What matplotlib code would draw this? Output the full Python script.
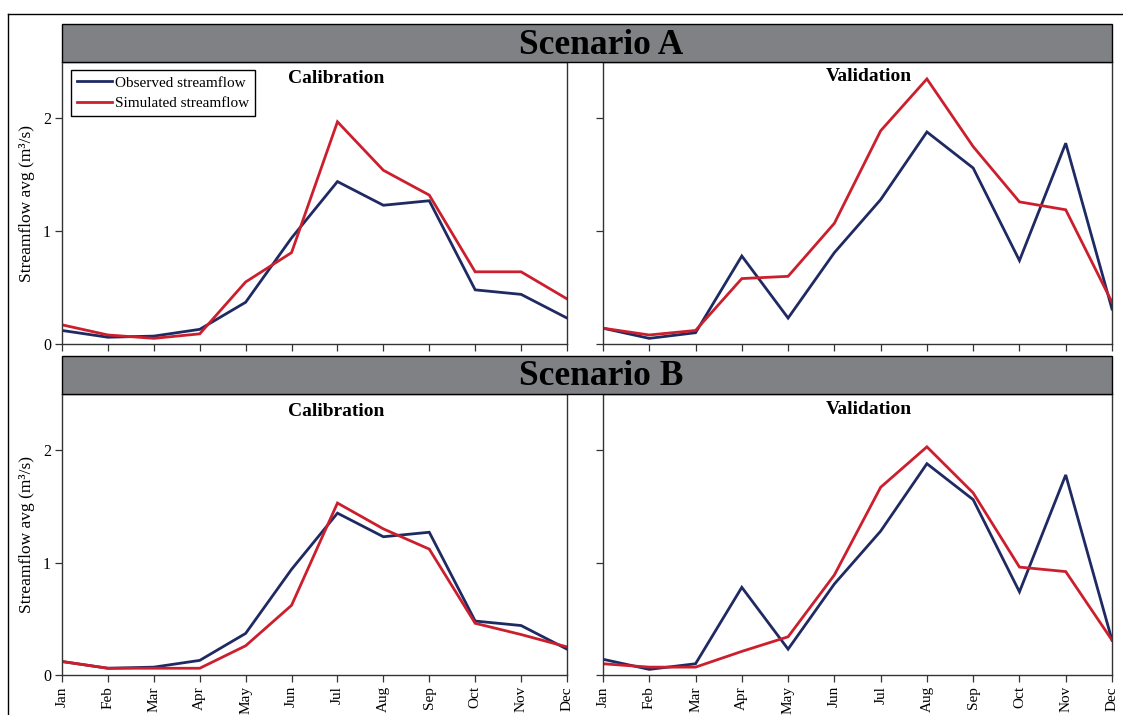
import matplotlib
matplotlib.use("Agg")
import matplotlib.pyplot as plt
from matplotlib.patches import Rectangle
from matplotlib.lines import Line2D

plt.rcParams['font.family'] = ['Liberation Serif', 'DejaVu Serif']

months = ["Jan", "Feb", "Mar", "Apr", "May", "Jun",
          "Jul", "Aug", "Sep", "Oct", "Nov", "Dec"]

# Observed mean monthly streamflow (m3/s)
obs_calibration = [0.12, 0.06, 0.07, 0.13, 0.37, 0.94, 1.44, 1.23, 1.27, 0.48, 0.44, 0.23]
obs_validation = [0.14, 0.05, 0.10, 0.78, 0.23, 0.81, 1.28, 1.88, 1.56, 0.74, 1.78, 0.31]

# Simulated streamflow, scenario A
simA_calibration = [0.17, 0.08, 0.05, 0.09, 0.55, 0.81, 1.97, 1.54, 1.32, 0.64, 0.64, 0.40]
simA_validation = [0.14, 0.08, 0.12, 0.58, 0.60, 1.07, 1.89, 2.35, 1.75, 1.26, 1.19, 0.37]

# Simulated streamflow, scenario B
simB_calibration = [0.12, 0.06, 0.06, 0.06, 0.26, 0.62, 1.53, 1.30, 1.12, 0.46, 0.36, 0.25]
simB_validation = [0.10, 0.07, 0.07, 0.21, 0.34, 0.89, 1.67, 2.03, 1.62, 0.96, 0.92, 0.31]

scenario_titles = ["Scenario A", "Scenario B"]
period_titles = ["Calibration", "Validation"]
yticks = [0, 1, 2]

OBS_COLOR = "#1f2a63"
SIM_COLOR = "#cc1f2d"
HEADER_COLOR = "#808185"

W, H = 1123, 715
fig = plt.figure(figsize=(W / 100, H / 100), dpi=100)


def fx(px):
    return px / W


def fy(py):
    return 1 - py / H


# panel geometry in pixels: (left, right) columns and (top, bottom) rows
cols = [(62, 567), (603, 1112)]
rows = [(62, 344), (394, 675)]
headers = [(24, 62), (356, 394)]

data = [
    [(obs_calibration, simA_calibration), (obs_validation, simA_validation)],
    [(obs_calibration, simB_calibration), (obs_validation, simB_validation)],
]
title_pos = [[(0.543, 0.943), (0.523, 0.950)], [(0.543, 0.936), (0.523, 0.946)]]

# outer frame (top and left edges)
fig.add_artist(Line2D([fx(8), fx(1123)], [fy(14), fy(14)], color="black", lw=1.0))
fig.add_artist(Line2D([fx(8), fx(8)], [fy(14), fy(715)], color="black", lw=1.0))

x = list(range(len(months)))

for r, (top, bottom) in enumerate(rows):
    # scenario header band
    htop, hbot = headers[r]
    fig.add_artist(Rectangle((fx(cols[0][0]), fy(hbot)),
                             fx(cols[1][1] - cols[0][0]), (hbot - htop) / H,
                             facecolor=HEADER_COLOR, edgecolor="black", lw=1.0))
    fig.text(fx(601), fy((htop + hbot) / 2 + 2),
             scenario_titles[r], ha="center", va="center",
             fontsize=25.5, fontweight="bold")

    for c, (left, right) in enumerate(cols):
        ax = fig.add_axes([fx(left), fy(bottom), fx(right - left), (bottom - top) / H])
        obs, sim = data[r][c]
        ax.plot(x, obs, color=OBS_COLOR, lw=2.0, label="Observed streamflow",
                solid_joinstyle="miter")
        ax.plot(x, sim, color=SIM_COLOR, lw=2.0, label="Simulated streamflow",
                solid_joinstyle="miter")
        ax.set_xlim(0, 11)
        ax.set_ylim(0, 2.5)
        ax.set_yticks(yticks)
        ax.set_xticks(x)
        if r == 1:
            ax.set_xticklabels(months, rotation=90, fontsize=11)
        else:
            ax.set_xticklabels([])
        if c == 0:
            ax.set_yticklabels([str(v) for v in yticks], fontsize=11.5)
            ax.set_ylabel("Streamflow avg (m³/s)", fontsize=12.5, labelpad=6)
        else:
            ax.set_yticklabels([])
        ax.tick_params(direction="out", length=5, width=0.9, color="#333333",
                       pad=3)
        for sp in ax.spines.values():
            sp.set_linewidth(1.0)
            sp.set_color("#333333")
        tx, ty = title_pos[r][c]
        ax.text(tx, ty, period_titles[c], transform=ax.transAxes,
                ha="center", va="center", fontsize=14, fontweight="bold")
        if r == 0 and c == 0:
            leg = ax.legend(loc="upper left", bbox_to_anchor=(0.018, 0.972),
                            borderaxespad=0, fancybox=False, framealpha=1,
                            edgecolor="black", fontsize=11, handlelength=2.3,
                            handletextpad=0.15, borderpad=0.4, labelspacing=0.45)
            leg.get_frame().set_linewidth(1.0)

fig.savefig("out.png", dpi=100)
